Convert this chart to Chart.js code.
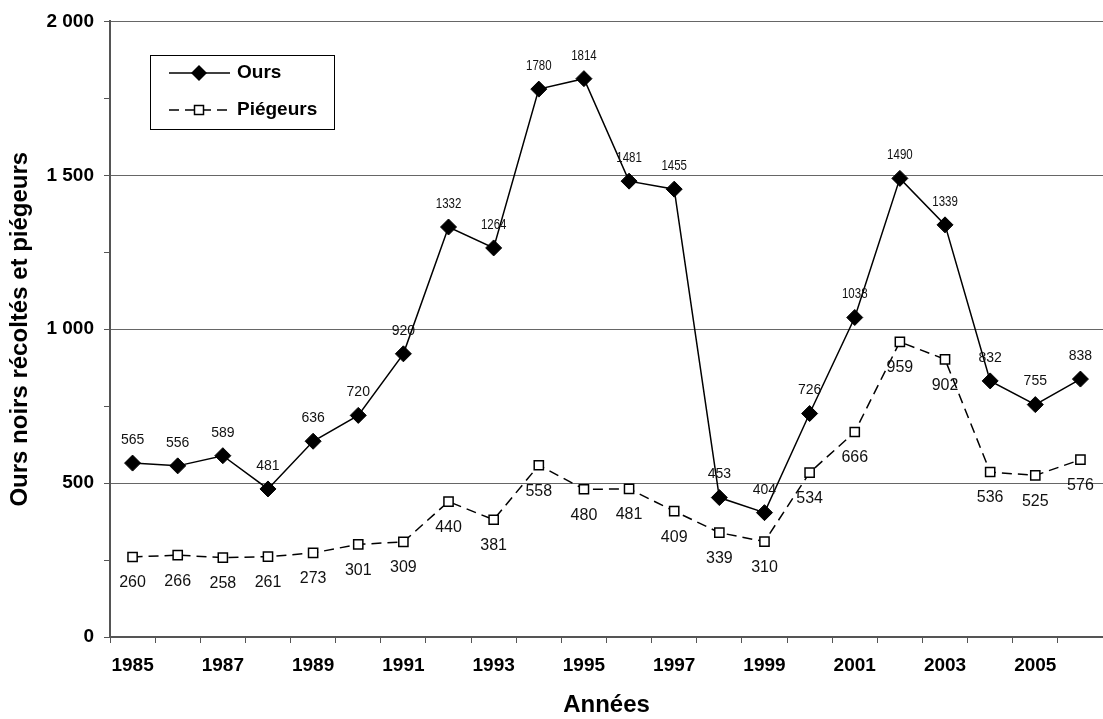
<!DOCTYPE html>
<html lang="fr">
<head>
<meta charset="utf-8">
<title>Ours noirs récoltés et piégeurs</title>
<script src="https://cdn.jsdelivr.net/npm/chart.js@4"></script>
<style>
  html, body { margin: 0; padding: 0; background: #fff; overflow: hidden; }
  #wrap { position: relative; width: 1112px; height: 719px; }
</style>
</head>
<body>
<div id="wrap"><canvas id="oursChart"></canvas></div>
<script>
const annees = ["1985", "1986", "1987", "1988", "1989", "1990", "1991", "1992", "1993", "1994", "1995",
  "1996", "1997", "1998", "1999", "2000", "2001", "2002", "2003", "2004", "2005", "2006"];
const ours = [565, 556, 589, 481, 636, 720, 920, 1332, 1264, 1780, 1814,
  1481, 1455, 453, 404, 726, 1038, 1490, 1339, 832, 755, 838];
const piegeurs = [260, 266, 258, 261, 273, 301, 309, 440, 381, 558, 480,
  481, 409, 339, 310, 534, 666, 959, 902, 536, 525, 576];
const yTicks = [0, 500, 1000, 1500, 2000];

const FONT = "Arial, 'Liberation Sans', sans-serif";

function fmt(v) {
  return String(v).replace(/\B(?=(\d{3})+(?!\d))/g, " ");
}

function diamond(ctx, x, y, r) {
  ctx.beginPath();
  ctx.moveTo(x, y - r);
  ctx.lineTo(x + r, y);
  ctx.lineTo(x, y + r);
  ctx.lineTo(x - r, y);
  ctx.closePath();
  ctx.fillStyle = "#000";
  ctx.fill();
}

function square(ctx, x, y, h) {
  ctx.fillStyle = "#fff";
  ctx.fillRect(x - h, y - h, 2 * h, 2 * h);
  ctx.strokeStyle = "#000";
  ctx.lineWidth = 1.5;
  ctx.setLineDash([]);
  ctx.strokeRect(x - h, y - h, 2 * h, 2 * h);
}

// étiquettes de valeurs (au-dessus pour Ours, en dessous pour Piégeurs)
const valueLabels = {
  id: "valueLabels",
  afterDatasetsDraw(chart) {
    const ctx = chart.ctx;
    ctx.save();
    ctx.fillStyle = "#111";
    ctx.textAlign = "center";
    ctx.textBaseline = "middle";
    chart.data.datasets.forEach((ds, i) => {
      const meta = chart.getDatasetMeta(i);
      meta.data.forEach((pt, j) => {
        const v = ds.data[j];
        if (i === 0) {
          ctx.font = "14px " + FONT;
          if (v >= 1000) {
            // les nombres à 4 chiffres sont plus serrés
            ctx.save();
            ctx.translate(pt.x, pt.y - 23);
            ctx.scale(0.82, 1);
            ctx.fillText(String(v), 0, 0);
            ctx.restore();
          } else {
            ctx.fillText(String(v), pt.x, pt.y - 23);
          }
        } else {
          ctx.font = "16px " + FONT;
          ctx.fillText(String(v), pt.x, pt.y + 26);
        }
      });
    });
    ctx.restore();
  }
};

// légende encadrée dans la zone du graphique
const boxLegend = {
  id: "boxLegend",
  afterDraw(chart) {
    const ctx = chart.ctx;
    ctx.save();
    ctx.fillStyle = "#fff";
    ctx.fillRect(150, 55, 184, 74);
    ctx.strokeStyle = "#000";
    ctx.lineWidth = 1;
    ctx.strokeRect(150.5, 55.5, 184, 74);

    ctx.lineWidth = 1.5;
    ctx.beginPath();
    ctx.moveTo(169, 73);
    ctx.lineTo(230, 73);
    ctx.stroke();
    diamond(ctx, 199, 73, 8);

    ctx.setLineDash([10, 6]);
    ctx.beginPath();
    ctx.moveTo(169, 110);
    ctx.lineTo(230, 110);
    ctx.stroke();
    square(ctx, 199, 110, 4.5);

    ctx.fillStyle = "#000";
    ctx.font = "bold 19px " + FONT;
    ctx.textAlign = "left";
    ctx.textBaseline = "middle";
    ctx.fillText(chart.data.datasets[0].label, 237, 73);
    ctx.fillText(chart.data.datasets[1].label, 237, 110);
    ctx.restore();
  }
};

new Chart(document.getElementById("oursChart").getContext("2d"), {
  type: "line",
  data: {
    labels: annees,
    datasets: [
      {
        label: "Ours",
        data: ours,
        borderColor: "#000",
        borderWidth: 1.5,
        pointStyle: "rectRot",
        pointRadius: 8,
        pointBackgroundColor: "#000",
        pointBorderColor: "#000",
        pointBorderWidth: 1,
        tension: 0,
      },
      {
        label: "Piégeurs",
        data: piegeurs,
        borderColor: "#000",
        borderWidth: 1.5,
        borderDash: [10, 6],
        pointStyle: "rect",
        pointRadius: 6.5,
        pointBackgroundColor: "#fff",
        pointBorderColor: "#000",
        pointBorderWidth: 1.5,
        tension: 0,
      },
    ],
  },
  options: {
    responsive: true,
    maintainAspectRatio: false,
    animation: false,
    layout: { padding: { top: 18, right: 1, bottom: 2, left: 0 } },
    plugins: {
      legend: { display: false },
      tooltip: { enabled: false },
    },
    scales: {
      x: {
        offset: true,
        grid: {
          offset: true,
          drawOnChartArea: false,
          tickLength: 6,
          tickColor: "#555",
        },
        border: { display: true, color: "#555", width: 2 },
        ticks: {
          autoSkip: false,
          maxRotation: 0,
          padding: 11,
          color: "#000",
          font: { family: FONT, size: 19, weight: "bold" },
          callback: function (value, index) {
            return index % 2 === 0 ? this.getLabelForValue(value) : "";
          },
        },
        title: {
          display: true,
          text: "Années",
          color: "#000",
          padding: { top: 0, bottom: 0 },
          font: { family: FONT, size: 24, weight: "bold", lineHeight: 1 },
        },
        afterFit(scale) { scale.height = 80; },
      },
      y: {
        min: 0,
        max: 2000,
        grid: {
          tickLength: 6,
          tickColor: "#555",
          color: (c) => (c.tick && c.tick.value > 0 && yTicks.includes(c.tick.value)) ? "#666" : "rgba(0,0,0,0)",
          lineWidth: 1,
        },
        border: { display: true, color: "#555", width: 2 },
        ticks: {
          stepSize: 250,
          padding: 10,
          color: "#000",
          font: { family: FONT, size: 19, weight: "bold" },
          callback: (v) => yTicks.includes(v) ? fmt(v) : "",
        },
        title: {
          display: true,
          text: "Ours noirs récoltés et piégeurs",
          color: "#000",
          padding: { top: 8, bottom: 0 },
          font: { family: FONT, size: 24, weight: "bold", lineHeight: 1 },
        },
        afterFit(scale) { scale.width = 110; },
      },
    },
  },
  plugins: [valueLabels, boxLegend],
});
</script>
</body>
</html>
